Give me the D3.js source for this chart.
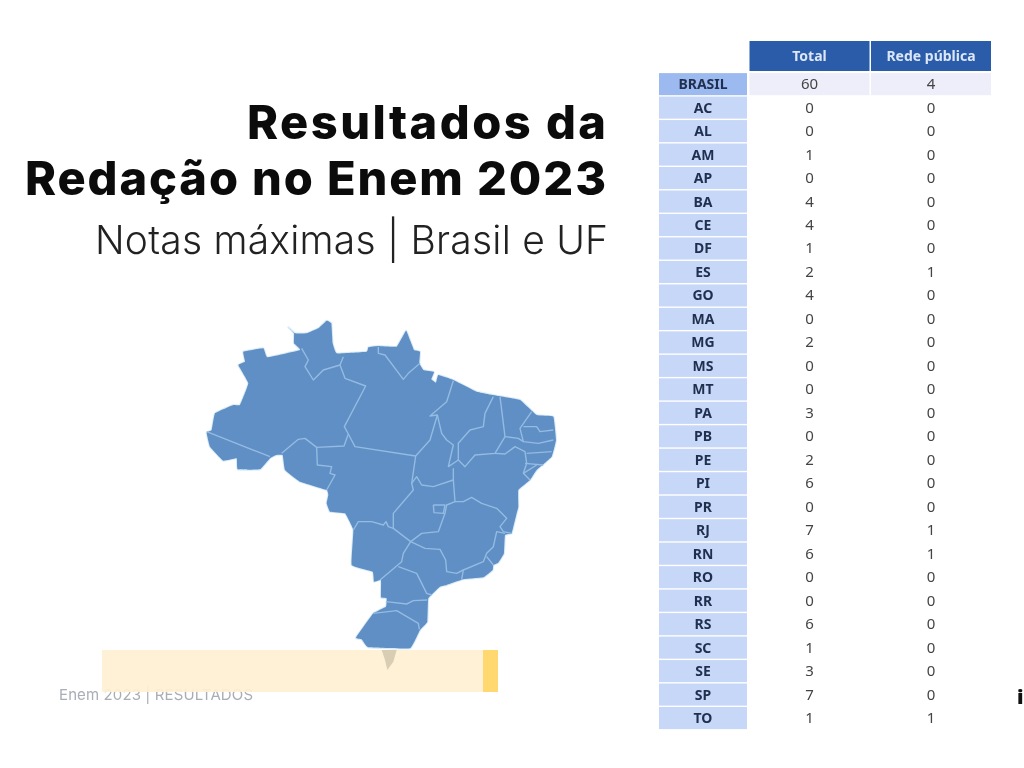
<!DOCTYPE html>
<html>
<head>
<meta charset="utf-8">
<script src="https://cdn.jsdelivr.net/npm/d3@7"></script>
<style>
  html, body { margin: 0; background: #fff; }
  svg { display: block; filter: blur(0.45px); }
</style>
</head>
<body>
<svg id="chart" width="1024" height="768"></svg>
<script>
// table data
var ufs = ["BRASIL","AC","AL","AM","AP","BA","CE","DF","ES","GO","MA","MG","MS","MT","PA","PB","PE","PI","PR","RJ","RN","RO","RR","RS","SC","SE","SP","TO"];
var total = [60,0,0,1,0,4,4,1,2,4,0,2,0,0,3,0,2,6,0,7,6,0,0,6,1,3,7,1];
var redePublica = [4,0,0,0,0,0,0,0,1,0,0,0,0,0,0,0,0,0,0,1,1,0,0,0,0,0,0,1];
var columns = ["Total","Rede pública"];

// map, units are 3x picture pixels
var brasilOutline = [[295,52],[315,70],[350,70],[385,55],[410,32],[424,40],[428,100],[440,130],[530,125],[535,112],[565,108],[620,110],[648,62],[660,90],[672,120],[690,125],[688,160],[700,180],[732,186],[724,208],[738,218],[745,195],[790,210],[860,245],[925,258],[990,270],[1040,315],[1090,320],[1098,390],[1085,440],[1040,480],[1020,510],[985,540],[985,590],[980,610],[965,670],[945,675],[942,730],[925,758],[910,765],[908,780],[880,802],[820,808],[770,825],[750,830],[715,865],[712,935],[690,960],[660,1015],[535,1012],[515,988],[498,983],[550,910],[588,890],[590,865],[573,862],[573,810],[552,815],[548,785],[485,765],[490,660],[465,610],[420,605],[410,580],[415,555],[410,540],[330,515],[285,480],[278,435],[258,435],[240,445],[210,478],[143,478],[140,445],[100,452],[60,410],[50,368],[65,360],[75,310],[130,285],[150,285],[175,220],[145,165],[165,155],[160,125],[220,115],[232,142],[330,120],[312,100],[312,70]];
var chuiTail = [[575,1020],[620,1020],[610,1055],[592,1080],[585,1050]];
var stateBorders = [
  [[50,365],[240,440]],
  [[335,115],[355,150],[345,170],[370,210],[400,180],[450,165]],
  [[460,140],[450,165],[465,205],[527,228],[463,350],[475,372],[462,408],[380,412],[345,385],[325,388],[275,430]],
  [[380,412],[382,465],[425,470],[420,490],[435,495],[410,540]],
  [[475,372],[495,410],[677,438]],
  [[565,110],[565,130],[585,135],[640,208],[655,190],[690,160]],
  [[790,212],[770,275],[720,318],[742,315],[720,390],[677,438],[665,520],[670,540],[610,610],[610,655],[662,695]],
  [[665,520],[680,500],[695,525],[730,530],[790,510]],
  [[742,315],[755,370],[770,390],[790,405],[775,470],[805,450]],
  [[910,260],[885,310],[880,350],[840,360],[805,400],[805,450],[825,470],[855,435],[915,430],[945,380],[930,260]],
  [[790,475],[790,510],[795,575],[770,585],[765,610],[745,665],[695,670],[662,695]],
  [[1025,305],[990,355],[1000,395]],
  [[945,380],[985,385],[1000,395],[1045,400],[1090,390]],
  [[1000,350],[1040,350],[1050,365],[1090,360]],
  [[1010,430],[1085,425]],
  [[1005,460],[1060,465]],
  [[1000,490],[1040,465]],
  [[915,430],[945,432],[975,410],[1005,425],[1010,460],[1000,490],[1020,510]],
  [[730,585],[765,585],[760,610],[732,608],[730,585]],
  [[795,575],[820,575],[845,562],[875,580],[920,595],[950,625],[930,650],[940,665],[965,670]],
  [[490,660],[505,635],[545,635],[580,645],[588,635],[595,650],[610,655]],
  [[662,695],[640,730],[635,755],[570,810]],
  [[662,695],[705,715],[750,718],[767,750],[770,785],[800,790],[820,780]],
  [[945,670],[920,665],[910,710],[890,730],[880,755],[820,780],[815,808]],
  [[890,740],[910,765]],
  [[625,770],[680,790],[710,850],[725,855]],
  [[588,875],[650,882],[670,872],[712,870]],
  [[550,910],[620,902],[685,940],[688,958]]
];

var svg = d3.select("#chart");
var tableFont = "'Noto Sans', sans-serif";
var titleFont = "Inter, sans-serif";

// title
svg.append("text").attr("x",247).attr("y",139).attr("textLength",359).attr("lengthAdjust","spacing")
  .style("font-family",titleFont).style("font-weight",800).style("font-size","47px").attr("fill","#0b0b0b").text("Resultados da");
svg.append("text").attr("x",25).attr("y",195).attr("textLength",581).attr("lengthAdjust","spacing")
  .style("font-family",titleFont).style("font-weight",800).style("font-size","47px").attr("fill","#0b0b0b").text("Redação no Enem 2023");
svg.append("text").attr("x",95).attr("y",254).attr("textLength",513).attr("lengthAdjust","spacing")
  .style("font-family",titleFont).style("font-weight",300).style("font-size","39px").attr("fill","#222").text("Notas máximas | Brasil e UF");

// map
var mapX = d3.scaleLinear().domain([0,1140]).range([190,570]);
var mapY = d3.scaleLinear().domain([0,1200]).range([310,710]);
var line = d3.line().x(function(d){ return mapX(d[0]); }).y(function(d){ return mapY(d[1]); });
var coast = d3.line().x(function(d){ return mapX(d[0]); }).y(function(d){ return mapY(d[1]); }).curve(d3.curveCardinalClosed.tension(0.75));

svg.append("path").attr("d",coast(brasilOutline))
  .attr("fill","#5f8fc4").attr("stroke","#d8ebf8").attr("stroke-width",2).attr("stroke-linejoin","round");
svg.append("path").attr("d",coast(brasilOutline)).attr("fill","#5f8fc4");
svg.selectAll(".border").data(stateBorders).enter().append("path")
  .attr("class","border").attr("d",line).attr("fill","none")
  .attr("stroke","#93bbe3").attr("stroke-width",1.4).attr("stroke-linejoin","round");

// banner over the map's tail
svg.append("text").attr("x",59).attr("y",700).attr("textLength",194).attr("lengthAdjust","spacing")
  .style("font-family",titleFont).style("font-size","15px").attr("fill","#a9adb5").text("Enem 2023 | RESULTADOS");
svg.append("rect").attr("x",102).attr("y",650).attr("width",396).attr("height",42).attr("fill","#fff0d3").attr("fill-opacity",0.93);
svg.append("rect").attr("x",483).attr("y",650).attr("width",15).attr("height",42).attr("fill","#ffd86f");
svg.append("path").attr("d",line(chuiTail)+"Z").attr("fill","#d9cdb4");

// table
var rowY = d3.scaleBand().domain(ufs).range([72.4,729.8]).paddingInner(0.06).paddingOuter(0.03);
var colX = d3.scaleBand().domain(columns).range([749.5,991]).paddingInner(0.012);

var head = svg.selectAll(".head").data(columns).enter().append("g").attr("class","head");
head.append("rect").attr("x",function(d){ return colX(d); }).attr("y",41)
  .attr("width",colX.bandwidth()).attr("height",30).attr("fill","#2b5ca9");
head.append("text").attr("x",function(d){ return colX(d)+colX.bandwidth()/2; }).attr("y",61)
  .attr("text-anchor","middle").style("font-family",tableFont).style("font-weight",700).style("font-size","14px")
  .attr("fill","#dbe6f6").text(function(d){ return d; });

columns.forEach(function(c){
  svg.append("rect").attr("x",colX(c)).attr("y",rowY("BRASIL")).attr("width",colX.bandwidth()).attr("height",rowY.bandwidth()).attr("fill","#eeedfa");
});

var rows = svg.selectAll(".row").data(ufs).enter().append("g").attr("class","row");
rows.append("rect").attr("x",659).attr("width",88)
  .attr("y",function(d){ return rowY(d); }).attr("height",rowY.bandwidth())
  .attr("fill",function(d){ return d=="BRASIL" ? "#9cbaf0" : "#c7d7f8"; });
rows.append("text").attr("x",703).attr("y",function(d){ return rowY(d)+rowY.bandwidth()/2+5; })
  .attr("text-anchor","middle").style("font-family",tableFont).style("font-weight",700).style("font-size","14px")
  .attr("fill","#1f2f4d").text(function(d){ return d; });
rows.append("text").attr("x",colX("Total")+colX.bandwidth()/2).attr("y",function(d){ return rowY(d)+rowY.bandwidth()/2+5; })
  .attr("text-anchor","middle").style("font-family",tableFont).style("font-size","15px")
  .attr("fill","#444").text(function(d,i){ return total[i]; });
rows.append("text").attr("x",colX("Rede pública")+colX.bandwidth()/2).attr("y",function(d){ return rowY(d)+rowY.bandwidth()/2+5; })
  .attr("text-anchor","middle").style("font-family",tableFont).style("font-size","15px")
  .attr("fill","#444").text(function(d,i){ return redePublica[i]; });

// cut off logo at the right edge
svg.append("text").attr("x",1017).attr("y",704).style("font-family",tableFont).style("font-weight",900).style("font-size","20px").attr("fill","#111").text("i");
</script>
</body>
</html>
